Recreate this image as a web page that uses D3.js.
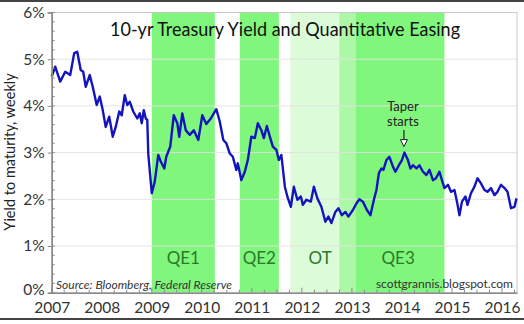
<!DOCTYPE html>
<html><head><meta charset="utf-8">
<script src="https://cdn.jsdelivr.net/npm/d3@7/dist/d3.min.js"></script>
<style>
html,body{margin:0;padding:0;background:#fff;}
svg{display:block;font-family:Lato,"Open Sans",sans-serif;}
</style></head>
<body><svg id="c" width="524" height="324"></svg>
<script>
// ---- data ----
const dates = [2007.0,2007.07,2007.17,2007.27,2007.37,2007.45,2007.51,2007.58,2007.63,2007.68,2007.76,2007.82,2007.9,2007.96,
2008.02,2008.08,2008.15,2008.22,2008.28,2008.35,2008.40,2008.46,2008.51,2008.56,2008.63,2008.71,2008.76,2008.80,2008.84,2008.88,2008.91,2008.93,
2009.0,2009.06,2009.13,2009.18,2009.25,2009.29,2009.37,2009.44,2009.51,2009.55,2009.61,2009.68,2009.76,2009.84,2009.93,
2010.01,2010.09,2010.18,2010.29,2010.36,2010.43,2010.49,2010.56,2010.62,2010.69,2010.72,2010.79,2010.86,2010.92,2010.99,
2011.06,2011.12,2011.19,2011.24,2011.30,2011.36,2011.42,2011.49,2011.54,2011.59,2011.66,2011.71,2011.78,2011.84,2011.91,2011.98,
2012.02,2012.09,2012.18,2012.24,2012.31,2012.39,2012.47,2012.53,2012.59,2012.67,2012.73,2012.80,2012.87,2012.93,
2013.02,2013.09,2013.15,2013.22,2013.30,2013.37,2013.44,2013.49,2013.54,2013.59,2013.63,2013.69,2013.75,2013.82,2013.87,2013.94,
2014.00,2014.05,2014.12,2014.17,2014.22,2014.29,2014.35,2014.42,2014.49,2014.55,2014.62,2014.68,2014.75,2014.80,2014.85,2014.92,2014.98,
2015.05,2015.10,2015.15,2015.20,2015.27,2015.31,2015.38,2015.45,2015.51,2015.58,2015.65,2015.71,2015.78,2015.85,2015.91,2015.98,
2016.05,2016.11,2016.18,2016.25,2016.29];
const yields = [4.63,4.84,4.52,4.73,4.66,5.13,5.16,4.77,4.73,4.41,4.66,4.41,4.02,4.20,
3.91,3.55,3.77,3.34,3.55,3.88,3.80,4.23,4.02,4.09,3.88,3.73,3.84,3.63,3.91,3.73,3.70,2.98,
2.13,2.38,2.95,2.81,2.66,2.91,3.13,3.80,3.63,3.34,3.84,3.48,3.38,3.48,3.27,
3.80,3.61,3.73,3.93,3.66,3.27,3.20,2.98,2.91,2.63,2.77,2.41,2.59,2.84,3.34,
3.31,3.63,3.48,3.31,3.57,3.34,3.13,3.06,2.84,2.95,2.27,2.06,1.84,2.27,1.99,2.06,
1.88,1.99,1.95,2.27,2.02,1.84,1.52,1.63,1.49,1.73,1.81,1.66,1.73,1.63,
1.77,1.91,2.00,1.95,1.77,1.66,1.99,2.20,2.56,2.66,2.63,2.84,2.91,2.70,2.59,2.73,
2.84,3.00,2.84,2.66,2.73,2.66,2.73,2.59,2.52,2.63,2.41,2.45,2.59,2.41,2.24,2.31,2.16,
2.20,1.95,1.66,1.95,2.06,1.88,2.13,2.27,2.45,2.34,2.20,2.16,2.24,2.09,2.16,2.31,
2.24,2.16,1.81,1.84,2.02];

const programs = ["QE1","QE2","OT","QE3"];
const progStart = [2009.0, 2010.76, 2011.77, 2012.75];
const progEnd   = [2010.26, 2011.54, 2013.08, 2014.85];
const yTicks = [0,1,2,3,4,5,6];
const yTickLabels = ["0%","1%","2%","3%","4%","5%","6%"];
const xTicks = [2007,2008,2009,2010,2011,2012,2013,2014,2015,2016];
const xTickLabels = ["2007","2008","2009","2010","2011","2012","2013","2014","2015","2016"];
const taperDate = 2014.04, taperYield = 3.0;

// ---- chart ----
const svg = d3.select("#c");
const L = 51.7, R = 517, T = 12.5, B = 292.7;
const x = d3.scaleLinear().domain([2007, 2016.3]).range([L, R]);
const y = d3.scaleLinear().domain([0, 6]).range([B, T]);

// outer frame lines
svg.append("line").attr("x1",0).attr("x2",524).attr("y1",1).attr("y2",1).attr("stroke","#444").attr("stroke-width",2);
svg.append("line").attr("x1",0).attr("x2",524).attr("y1",319).attr("y2",319).attr("stroke","#444").attr("stroke-width",2);

// bands: QE first (bright), then OT (light, translucent) on top
const bands = programs.map((p,i)=>({p, s:progStart[i], e:progEnd[i]}));
svg.selectAll("rect.qe").data(bands.filter(b=>b.p!=="OT")).join("rect")
  .attr("x", d=>x(d.s)).attr("width", d=>x(d.e)-x(d.s))
  .attr("y", T).attr("height", B-T).attr("fill", "#80f67c");
svg.selectAll("rect.ot").data(bands.filter(b=>b.p==="OT")).join("rect")
  .attr("x", d=>x(d.s)).attr("width", d=>x(d.e)-x(d.s))
  .attr("y", T).attr("height", B-T).attr("fill", "#c6f9c2").attr("fill-opacity", 0.62);

// gridlines
svg.selectAll("line.grid").data(yTicks.slice(1,6)).join("line")
  .attr("x1", L).attr("x2", R).attr("y1", d=>y(d)).attr("y2", d=>y(d))
  .attr("stroke", "#e2e2e2").attr("stroke-opacity",0.9).attr("stroke-width", 1);

// plot frame
svg.append("rect").attr("x",L).attr("y",T).attr("width",R-L).attr("height",B-T)
  .attr("fill","none").attr("stroke","#c8c8c8").attr("stroke-width",1);

// band labels
svg.selectAll("text.band").data(bands).join("text")
  .attr("x", d=> d.p==="QE3" ? (x(2013.08)+x(d.e))/2 - 2 : (x(d.s)+x(d.e))/2 + (d.p==="OT"?-3:0))
  .attr("y", 263.5).attr("text-anchor","middle")
  .attr("font-size", 17).attr("fill", "#2b7a2b").text(d=>d.p);

// line
const pts = dates.map((d,i)=>[d, yields[i]]);
svg.append("path").datum(pts)
  .attr("d", d3.line().x(d=>x(d[0])).y(d=>y(d[1])))
  .attr("fill","none").attr("stroke","#1414bf").attr("stroke-width",2.4).attr("stroke-linejoin","round");

// y axis
const yAxis = d3.axisLeft(y).tickValues(yTicks).tickFormat((d,i)=>yTickLabels[i]).tickSize(4).tickPadding(3);
const gy = svg.append("g").attr("transform",`translate(${L},0)`).call(yAxis);
gy.select(".domain").attr("stroke","#8a8a8a").attr("stroke-width",1.6);
gy.selectAll(".tick line").attr("stroke","#8a8a8a");
gy.selectAll(".tick text").attr("font-size",15.5).attr("fill","#333").attr("font-family","Lato");
gy.selectAll(".tick").filter(d=>d===0).select("text").attr("dy","0.1em");
const yMinor = d3.range(0, 6.001, 0.2);
svg.selectAll("line.ym").data(yMinor).join("line")
  .attr("x1", L).attr("x2", L+3).attr("y1", d=>y(d)).attr("y2", d=>y(d))
  .attr("stroke","#8a8a8a").attr("stroke-width",1);

// x axis
const xAxis = d3.axisBottom(x).tickValues(xTicks).tickFormat((d,i)=>xTickLabels[i]).tickSize(0).tickPadding(9);
const gx = svg.append("g").attr("transform",`translate(0,${B})`).call(xAxis);
gx.select(".domain").attr("stroke","#8a8a8a").attr("stroke-width",1.6);
gx.selectAll(".tick text").attr("font-size",15.5).attr("fill","#333").attr("font-family","Lato");
const xMinor = d3.range(2007, 2016.3, 0.25);
svg.selectAll("line.xm").data(xMinor).join("line")
  .attr("x1", d=>x(d)).attr("x2", d=>x(d)).attr("y1", B).attr("y2", d=> Number.isInteger(d)? B-5 : B-3)
  .attr("stroke","#8a8a8a").attr("stroke-width",1);

// title
svg.append("text").attr("x", 285).attr("y", 36).attr("text-anchor","middle")
  .attr("font-size", 18.5).attr("fill","#111")
  .attr("textLength", 350).attr("lengthAdjust","spacingAndGlyphs")
  .text("10-yr Treasury Yield and Quantitative Easing");

// y axis title
svg.append("text").attr("transform","translate(15,152) rotate(-90)")
  .attr("text-anchor","middle").attr("font-size",14.5).attr("fill","#222")
  .text("Yield to maturity, weekly");

// source + site
svg.append("text").attr("x",56).attr("y",289).attr("font-size",12).attr("font-style","italic")
  .attr("fill","#333").attr("textLength",176).attr("lengthAdjust","spacingAndGlyphs")
  .text("Source: Bloomberg, Federal Reserve");
svg.append("text").attr("x",513).attr("y",287.5).attr("text-anchor","end").attr("font-size",12)
  .attr("fill","#333").text("scottgrannis.blogspot.com");

// taper annotation
const tx = x(taperDate);
svg.append("text").attr("x", tx-1).attr("y", 111).attr("text-anchor","middle").attr("font-size",13).attr("fill","#222").text("Taper");
svg.append("text").attr("x", tx-1).attr("y", 126).attr("text-anchor","middle").attr("font-size",13).attr("fill","#222").text("starts");
const tip = y(taperYield) - 6;
svg.append("line").attr("x1",tx).attr("x2",tx).attr("y1",130).attr("y2",tip-6).attr("stroke","#222").attr("stroke-width",1.2);
svg.append("path").attr("d",`M${tx-3.5},${tip-7} L${tx+3.5},${tip-7} L${tx},${tip} Z`)
  .attr("fill","#fff").attr("stroke","#222").attr("stroke-width",1);
</script></body></html>
